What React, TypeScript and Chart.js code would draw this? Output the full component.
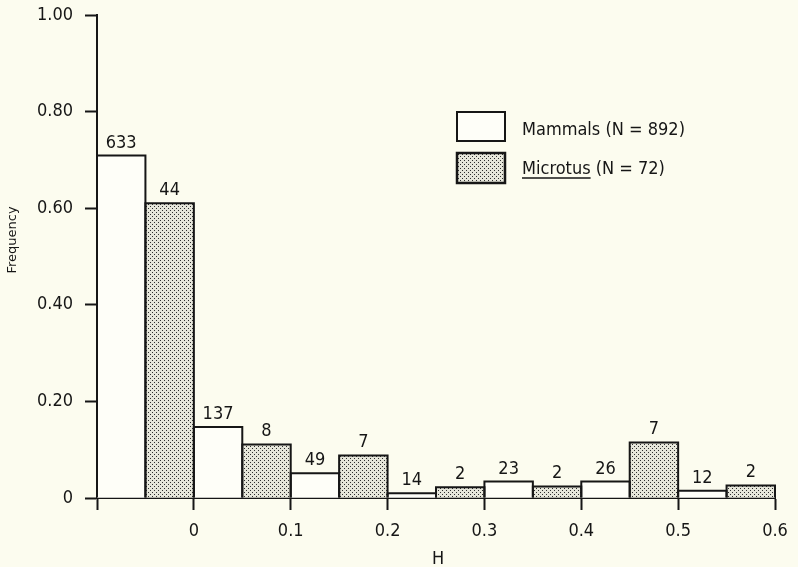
import React, { useEffect, useRef } from 'react';
import { Chart, registerables } from 'chart.js';

Chart.register(...registerables);

// ---- data ----
const mammalsH = [-0.075, 0.025, 0.125, 0.225, 0.325, 0.425, 0.525];
const mammalsFreq = [0.709, 0.147, 0.051, 0.010, 0.034, 0.034, 0.015];
const mammalsCount = [633, 137, 49, 14, 23, 26, 12];

const microtusH = [-0.025, 0.075, 0.175, 0.275, 0.375, 0.475, 0.575];
const microtusFreq = [0.610, 0.111, 0.088, 0.022, 0.024, 0.115, 0.026];
const microtusCount = [44, 8, 7, 2, 2, 7, 2];

const xTicks = [-0.1, 0, 0.1, 0.2, 0.3, 0.4, 0.5, 0.6];
const yTicks = [0, 0.2, 0.4, 0.6, 0.8, 1.0];

const mammalsLegend = 'Mammals (N = 892)';
const microtusLegendName = 'Microtus';
const microtusLegendRest = ' (N = 72)';
const xTitle = 'H';
const yTitle = 'Frequency';

// ---- style ----
const BG = '#fcfcef';
const INK = '#161616';
const NARROW = '"DejaVu Sans Condensed", "Liberation Sans Narrow", sans-serif';
const SANS = '"DejaVu Sans", sans-serif';

function makeStipple(): CanvasPattern | string {
  const c = document.createElement('canvas');
  c.width = 4;
  c.height = 4;
  const g = c.getContext('2d');
  if (!g) return '#cccccc';
  g.fillStyle = '#e6e6da';
  g.fillRect(0, 0, 4, 4);
  g.fillStyle = '#2e2e2e';
  g.fillRect(0, 0, 1, 1);
  g.fillRect(2, 2, 1, 1);
  const ctx = document.createElement('canvas').getContext('2d');
  const p = ctx ? ctx.createPattern(c, 'repeat') : null;
  return p || '#cccccc';
}

export default function App() {
  const ref = useRef<HTMLCanvasElement | null>(null);

  useEffect(() => {
    const canvas = ref.current;
    if (!canvas) return;
    const stipple = makeStipple();

    const counts = [mammalsCount, microtusCount];

    const paperPlugin = {
      id: 'paper',
      beforeDraw(chart: any) {
        const { ctx, width, height } = chart;
        ctx.save();
        ctx.fillStyle = BG;
        ctx.fillRect(0, 0, width, height);
        ctx.restore();
      },
    };

    const decorPlugin = {
      id: 'decor',
      afterDatasetsDraw(chart: any) {
        const ctx = chart.ctx;
        ctx.save();
        ctx.strokeStyle = INK;
        ctx.lineWidth = 2;
        ctx.lineJoin = 'miter';
        chart.data.datasets.forEach((_: any, di: number) => {
          const meta = chart.getDatasetMeta(di);
          meta.data.forEach((bar: any, i: number) => {
            const { x, y, base, width } = bar.getProps(['x', 'y', 'base', 'width'], true);
            const l = x - width / 2;
            const r = x + width / 2;
            ctx.beginPath();
            ctx.moveTo(l, base);
            ctx.lineTo(l, y);
            ctx.lineTo(r, y);
            ctx.lineTo(r, base);
            ctx.stroke();
            // count label
            ctx.fillStyle = INK;
            ctx.font = `18px ${NARROW}`;
            ctx.textAlign = 'center';
            ctx.textBaseline = 'alphabetic';
            ctx.fillText(String(counts[di][i]), x, y - 8);
          });
        });
        ctx.restore();
      },
      afterDraw(chart: any) {
        const ctx = chart.ctx;
        const area = chart.chartArea;
        ctx.save();
        ctx.fillStyle = INK;
        // y title
        ctx.font = `13px ${SANS}`;
        ctx.textAlign = 'center';
        ctx.textBaseline = 'middle';
        ctx.translate(13, 240);
        ctx.rotate(-Math.PI / 2);
        ctx.fillText(yTitle, 0, 0);
        ctx.setTransform(1, 0, 0, 1, 0, 0);
        // x title
        ctx.font = `18px ${NARROW}`;
        ctx.textAlign = 'center';
        ctx.textBaseline = 'alphabetic';
        ctx.fillText(xTitle, (area.left + area.right) / 2 + 2, 564);

        // legend
        const bx = 457;
        const bw = 48;
        const bh = 29;
        ctx.lineWidth = 2;
        ctx.strokeStyle = INK;
        ctx.fillStyle = '#fefef8';
        ctx.fillRect(bx, 112, bw, bh);
        ctx.strokeRect(bx, 112, bw, bh);
        ctx.fillStyle = stipple as any;
        ctx.fillRect(bx, 153, bw, 30);
        ctx.lineWidth = 2.5;
        ctx.strokeRect(bx, 153, bw, 30);

        ctx.fillStyle = INK;
        ctx.font = `18px ${NARROW}`;
        ctx.textAlign = 'left';
        ctx.textBaseline = 'alphabetic';
        const tx = 522;
        ctx.fillText(mammalsLegend, tx, 134.5);
        ctx.fillText(microtusLegendName, tx, 174);
        const w = ctx.measureText(microtusLegendName).width;
        ctx.fillText(microtusLegendRest, tx + w, 174);
        ctx.lineWidth = 1.5;
        ctx.beginPath();
        ctx.moveTo(tx, 178);
        ctx.lineTo(tx + w, 178);
        ctx.stroke();
        ctx.restore();
      },
    };

    const chart = new Chart(canvas, {
      type: 'bar',
      data: {
        datasets: [
          {
            label: 'Mammals',
            data: mammalsH.map((h, i) => ({ x: h, y: mammalsFreq[i] })),
            backgroundColor: '#fefef8',
            borderWidth: 0,
            grouped: false,
            barPercentage: 1,
            categoryPercentage: 1,
          } as any,
          {
            label: 'Microtus',
            data: microtusH.map((h, i) => ({ x: h, y: microtusFreq[i] })),
            backgroundColor: stipple as any,
            borderWidth: 0,
            grouped: false,
            barPercentage: 1,
            categoryPercentage: 1,
          } as any,
        ],
      },
      options: {
        responsive: false,
        animation: false,
        devicePixelRatio: 1,
        layout: { padding: { left: 0, top: 15, right: 23, bottom: 0 } },
        plugins: {
          legend: { display: false },
          tooltip: { enabled: false },
        },
        scales: {
          x: {
            type: 'linear',
            min: -0.1,
            max: 0.6,
            offset: false,
            z: 1,
            afterBuildTicks(scale: any) {
              scale.ticks = xTicks.map((v) => ({ value: v }));
            },
            afterFit(scale: any) {
              scale.height = 69;
              scale.paddingLeft = 0;
              scale.paddingRight = 0;
            },
            grid: {
              offset: false,
              drawOnChartArea: false,
              drawTicks: true,
              tickLength: 12,
              tickWidth: 2,
              tickColor: INK,
            },
            border: { display: true, color: INK, width: 2 },
            ticks: {
              color: INK,
              font: { family: NARROW, size: 18 },
              padding: 11,
              maxRotation: 0,
              autoSkip: false,
              callback: (v: any) => {
                const n = Number(v);
                if (n < -0.05) return '';
                if (Math.abs(n) < 1e-9) return '0';
                return n.toFixed(1);
              },
            },
          },
          y: {
            type: 'linear',
            min: 0,
            max: 1,
            z: 1,
            afterBuildTicks(scale: any) {
              scale.ticks = yTicks.map((v) => ({ value: v }));
            },
            afterFit(scale: any) {
              scale.width = 97;
              scale.paddingTop = 0;
              scale.paddingBottom = 0;
            },
            grid: {
              drawOnChartArea: false,
              drawTicks: true,
              tickLength: 12,
              tickWidth: 2,
              tickColor: INK,
            },
            border: { display: true, color: INK, width: 2 },
            ticks: {
              color: INK,
              font: { family: NARROW, size: 18 },
              padding: 12,
              autoSkip: false,
              callback: (v: any) => {
                const n = Number(v);
                if (Math.abs(n) < 1e-9) return '0';
                return n.toFixed(2);
              },
            },
          },
        },
      } as any,
      plugins: [paperPlugin, decorPlugin],
    });

    return () => {
      chart.destroy();
    };
  }, []);

  return (
    <div
      style={{
        position: 'fixed',
        left: 0,
        top: 0,
        width: 798,
        height: 567,
        background: BG,
        overflow: 'hidden',
      }}
    >
      <canvas ref={ref} width={798} height={567} style={{ display: 'block', width: 798, height: 567 }} />
    </div>
  );
}
